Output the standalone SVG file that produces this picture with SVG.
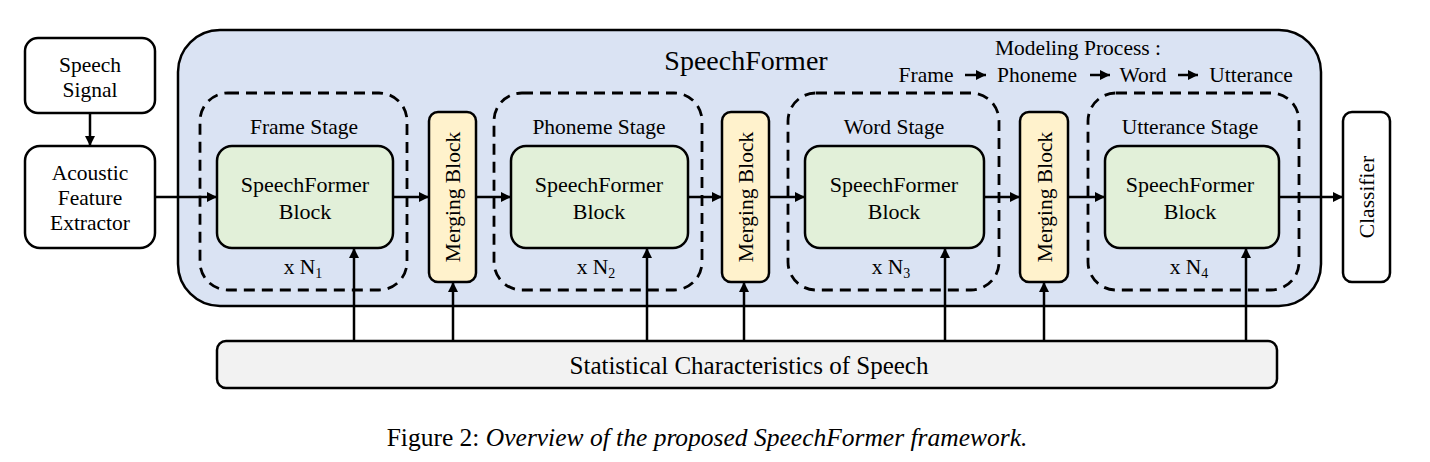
<svg xmlns="http://www.w3.org/2000/svg" width="1430" height="462" viewBox="0 0 1430 462">
<style>
text{font-family:"Liberation Serif","Times New Roman",serif;fill:#000;}
.t21{font-size:21.5px;text-anchor:middle;}
.t22{font-size:22px;text-anchor:middle;}
.box{stroke:#000;stroke-width:2.5;}
.white{fill:#fff;}
.green{fill:#e2f0d9;}
.merge{fill:#fff2cc;}
.stage{fill:none;stroke:#000;stroke-width:2.8;stroke-dasharray:11 7;}
.ln{stroke:#000;stroke-width:2.5;fill:none;}
</style>
<defs>
<marker id="ah" viewBox="0 0 10 10" refX="10" refY="5" markerWidth="4.2" markerHeight="4" markerUnits="strokeWidth" orient="auto">
<path d="M0,0 L10,5 L0,10 z" fill="#000"/>
</marker>
</defs>
<rect width="1430" height="462" fill="#fff"/>
<g id="container">
<rect x="178" y="30" width="1143" height="276" rx="42" fill="#dae3f3" class="box"/>
<text x="746" y="70" style="font-size:28px;text-anchor:middle">SpeechFormer</text>
<text x="1078" y="55" class="t21">Modeling Process :</text>
<text x="926" y="82" class="t21">Frame</text>
<text x="1037" y="82" class="t21">Phoneme</text>
<text x="1143" y="82" class="t21">Word</text>
<text x="1251" y="82" class="t21">Utterance</text>
</g>
<g id="speech-signal">
<rect x="25" y="38" width="130" height="75" rx="13" class="box white"/>
<text x="90" y="72" class="t21">Speech</text>
<text x="90" y="97" class="t21">Signal</text>
</g>
<g id="acoustic">
<rect x="25" y="146" width="130" height="102" rx="15" class="box white"/>
<text x="90" y="180" class="t21">Acoustic</text>
<text x="90" y="205" class="t21">Feature</text>
<text x="90" y="230" class="t21">Extractor</text>
</g>
<g id="frame-stage">
<rect x="200" y="93" width="207" height="197" rx="28" class="stage"/>
<text x="304" y="134" class="t21">Frame Stage</text>
<rect x="217" y="146" width="176" height="102" rx="15" class="box green"/>
<text x="305" y="192" class="t22">SpeechFormer</text>
<text x="305" y="219" class="t22">Block</text>
<text x="303" y="274" class="t21">x N<tspan font-size="14" dy="4">1</tspan></text>
</g>
<g id="merge1">
<rect x="429" y="112" width="47" height="170" rx="9" class="box merge"/>
<text transform="translate(460,197) rotate(-90)" class="t21">Merging Block</text>
</g>
<g id="phoneme-stage">
<rect x="494" y="93" width="208" height="197" rx="28" class="stage"/>
<text x="599" y="134" class="t21">Phoneme Stage</text>
<rect x="511" y="146" width="177" height="102" rx="15" class="box green"/>
<text x="599" y="192" class="t22">SpeechFormer</text>
<text x="599" y="219" class="t22">Block</text>
<text x="596" y="274" class="t21">x N<tspan font-size="14" dy="4">2</tspan></text>
</g>
<g id="merge2">
<rect x="722" y="112" width="47" height="170" rx="9" class="box merge"/>
<text transform="translate(753,197) rotate(-90)" class="t21">Merging Block</text>
</g>
<g id="word-stage">
<rect x="788" y="93" width="211" height="197" rx="28" class="stage"/>
<text x="894" y="134" class="t21">Word Stage</text>
<rect x="805" y="146" width="179" height="102" rx="15" class="box green"/>
<text x="894" y="192" class="t22">SpeechFormer</text>
<text x="894" y="219" class="t22">Block</text>
<text x="891" y="274" class="t21">x N<tspan font-size="14" dy="4">3</tspan></text>
</g>
<g id="merge3">
<rect x="1020" y="112" width="48" height="170" rx="9" class="box merge"/>
<text transform="translate(1052,197) rotate(-90)" class="t21">Merging Block</text>
</g>
<g id="utterance-stage">
<rect x="1088" y="93" width="211" height="197" rx="28" class="stage"/>
<text x="1190" y="134" class="t21">Utterance Stage</text>
<rect x="1105" y="146" width="174" height="102" rx="15" class="box green"/>
<text x="1190" y="192" class="t22">SpeechFormer</text>
<text x="1190" y="219" class="t22">Block</text>
<text x="1189" y="274" class="t21">x N<tspan font-size="14" dy="4">4</tspan></text>
</g>
<g id="classifier">
<rect x="1343" y="112" width="47" height="170" rx="9" class="box white"/>
<text transform="translate(1374,197) rotate(-90)" class="t21">Classifier</text>
</g>
<g id="statistics">
<rect x="217" y="341" width="1060" height="47" rx="9" fill="#f2f2f2" class="box"/>
<text x="749" y="374" style="font-size:25px;text-anchor:middle">Statistical Characteristics of Speech</text>
</g>
<g id="connectors" class="ln">
<line x1="90" y1="113" x2="90" y2="146" marker-end="url(#ah)"/>
<line x1="155" y1="197" x2="217" y2="197" marker-end="url(#ah)"/>
<line x1="393" y1="197" x2="429" y2="197" marker-end="url(#ah)"/>
<line x1="476" y1="197" x2="511" y2="197" marker-end="url(#ah)"/>
<line x1="688" y1="197" x2="722" y2="197" marker-end="url(#ah)"/>
<line x1="769" y1="197" x2="805" y2="197" marker-end="url(#ah)"/>
<line x1="984" y1="197" x2="1020" y2="197" marker-end="url(#ah)"/>
<line x1="1068" y1="197" x2="1105" y2="197" marker-end="url(#ah)"/>
<line x1="1279" y1="197" x2="1343" y2="197" marker-end="url(#ah)"/>
<line x1="354" y1="341" x2="354" y2="248" marker-end="url(#ah)"/>
<line x1="453" y1="341" x2="453" y2="282" marker-end="url(#ah)"/>
<line x1="647" y1="341" x2="647" y2="248" marker-end="url(#ah)"/>
<line x1="744" y1="341" x2="744" y2="282" marker-end="url(#ah)"/>
<line x1="945" y1="341" x2="945" y2="248" marker-end="url(#ah)"/>
<line x1="1044" y1="341" x2="1044" y2="282" marker-end="url(#ah)"/>
<line x1="1246" y1="341" x2="1246" y2="248" marker-end="url(#ah)"/>
<line x1="965" y1="75" x2="986" y2="75" marker-end="url(#ah)"/>
<line x1="1090" y1="75" x2="1110" y2="75" marker-end="url(#ah)"/>
<line x1="1178" y1="75" x2="1198" y2="75" marker-end="url(#ah)"/>
</g>
<g id="caption">
<text x="707" y="446" style="font-size:25.5px;text-anchor:middle">Figure 2: <tspan font-style="italic">Overview of the proposed SpeechFormer framework.</tspan></text>
</g>
</svg>
